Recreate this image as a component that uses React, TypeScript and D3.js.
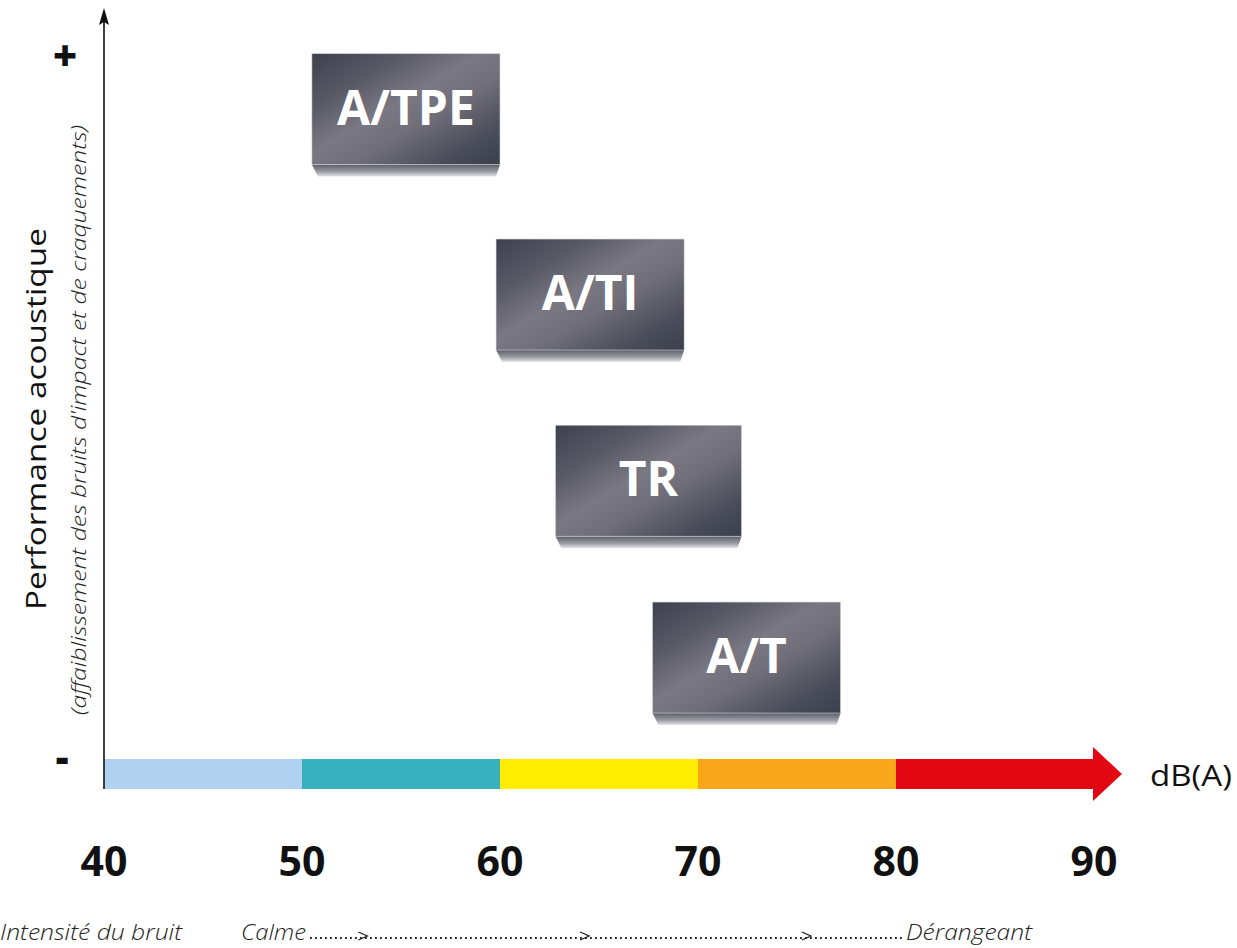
import React from 'react'
import * as d3 from 'd3'

// dB(A) zones along the bottom arrow
const zoneStarts = [40, 50, 60, 70, 80]
const zoneColors = ['#b0d2f0', '#38b0c0', '#ffec00', '#f7a717', '#e30613']
const tickValues = [40, 50, 60, 70, 80, 90]

// floor types: label, dB range, performance (top of box, 0..100)
const floorLabels = ['A/TPE', 'A/TI', 'TR', 'A/T']
const floorFrom = [50.5, 59.8, 62.8, 67.7]
const floorTo = [60, 69.3, 72.2, 77.2]
const floorPerf = [94.4, 70.6, 46.7, 24.0]

// little arrows in the "Calme ...... Dérangeant" line
const scaleArrows = [53.3, 64.5, 75.7]

const W = 1237
const H = 948
const FONT = '"Open Sans", "Noto Sans", sans-serif'

export default function App() {
  const x = d3.scaleLinear().domain([40, 90]).range([104, 1094])
  const y = d3.scaleLinear().domain([0, 100]).range([789, 10])
  const BOX_H = 111
  const BEVEL = 12
  const barTop = 759
  const barH = 30
  const arrowEnd = 1122
  const dotY = 937

  return (
    <svg width={W} height={H} style={{ display: 'block', position: 'absolute', left: 0, top: 0 }}
      fontFamily={FONT}>
      <defs>
        <linearGradient id="face" x1="0" y1="0" x2="1" y2="1">
          <stop offset="0" stopColor="#3d404d" />
          <stop offset="0.25" stopColor="#5a5a67" />
          <stop offset="0.45" stopColor="#7a7882" />
          <stop offset="0.6" stopColor="#706e79" />
          <stop offset="0.85" stopColor="#484b58" />
          <stop offset="1" stopColor="#3b3e4b" />
        </linearGradient>
        <linearGradient id="bevel" x1="0" y1="0" x2="0" y2="1">
          <stop offset="0" stopColor="#5e5e69" />
          <stop offset="0.6" stopColor="#9c9ca5" />
          <stop offset="1" stopColor="#e6e6ea" />
        </linearGradient>
      </defs>

      {/* boxes */}
      {floorLabels.map((lab, i) => {
        const x0 = x(floorFrom[i])
        const x1 = x(floorTo[i])
        const top = y(floorPerf[i])
        const bot = top + BOX_H
        return (
          <g key={lab}>
            <path d={`M${x0},${bot} L${x1},${bot} L${x1 - 4},${bot + BEVEL} L${x0 + 6},${bot + BEVEL} Z`}
              fill="url(#bevel)" />
            <rect x={x0} y={top} width={x1 - x0} height={BOX_H} fill="url(#face)"
              stroke="#d8d8dc" strokeWidth={0.6} />
            <text x={(x0 + x1) / 2} y={top + 71} textAnchor="middle" fill="#fff"
              fontWeight={700} fontSize={48}>{lab}</text>
          </g>
        )
      })}

      {/* coloured dB bar */}
      {zoneStarts.map((v, i) => {
        const xs = x(v)
        const xe = i < zoneStarts.length - 1 ? x(zoneStarts[i + 1]) : x(90)
        return <rect key={v} x={xs} y={barTop} width={xe - xs + (i < 4 ? 0.5 : 0)} height={barH} fill={zoneColors[i]} />
      })}
      <path d={`M${x(90) - 1},${barTop - 12} L${arrowEnd},${barTop + barH / 2} L${x(90) - 1},${barTop + barH + 12} Z`}
        fill={zoneColors[4]} />
      <text x={1150} y={786} fontSize={30} fill="#111" textLength={82}
        lengthAdjust="spacingAndGlyphs">dB(A)</text>

      {/* y axis */}
      <line x1={104} y1={16} x2={104} y2={barTop + barH} stroke="#111" strokeWidth={1.6} />
      <path d="M104,8 L99,25 L104,22 L109,25 Z" fill="#111" />
      <text x={65} y={71} textAnchor="middle" fontSize={42} fontWeight={800} fill="#111">+</text>
      <text x={62} y={772} textAnchor="middle" fontSize={40} fontWeight={800} fill="#111">-</text>

      <text transform="translate(46,419) rotate(-90)" textAnchor="middle" fontSize={27}
        fill="#111" textLength={382} lengthAdjust="spacingAndGlyphs">Performance acoustique</text>
      <text transform="translate(86,420) rotate(-90)" textAnchor="middle" fontSize={20}
        fontStyle="italic" fontWeight={300} fill="#222" textLength={590}
        lengthAdjust="spacingAndGlyphs">(affaiblissement des bruits d'impact et de craquements)</text>

      {/* tick labels */}
      {tickValues.map(v => (
        <text key={v} x={x(v)} y={876} textAnchor="middle" fontSize={41} fontWeight={700} fill="#111">{v}</text>
      ))}

      {/* intensity scale */}
      <text x={0} y={940} fontSize={22} fontStyle="italic" fontWeight={300} fill="#222"
        textLength={182} lengthAdjust="spacingAndGlyphs">Intensité du bruit</text>
      <text x={241} y={940} fontSize={22} fontStyle="italic" fontWeight={300} fill="#222"
        textLength={65} lengthAdjust="spacingAndGlyphs">Calme</text>
      <line x1={310} y1={dotY + 1} x2={904} y2={dotY + 1} stroke="#222" strokeWidth={2}
        strokeDasharray="1.8 3.2" />
      {scaleArrows.map(v => (
        <path key={v} d={`M${x(v) - 9},${dotY - 5} L${x(v)},${dotY - 1} L${x(v) - 9},${dotY + 3}`}
          fill="none" stroke="#222" strokeWidth={1.3} />
      ))}
      <text x={906} y={940} fontSize={22} fontStyle="italic" fontWeight={300} fill="#222"
        textLength={126} lengthAdjust="spacingAndGlyphs">Dérangeant</text>
    </svg>
  )
}
